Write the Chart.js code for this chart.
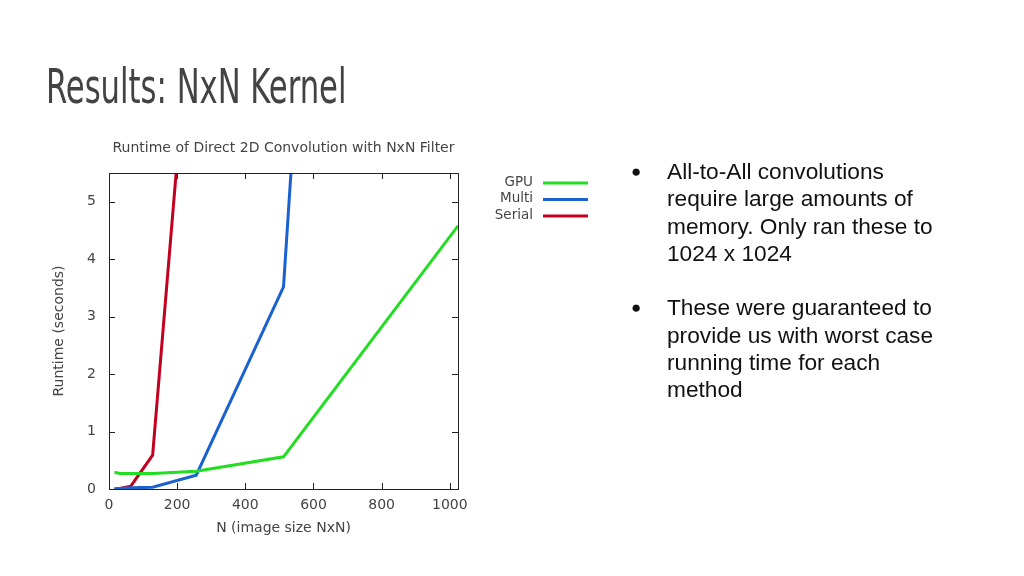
<!DOCTYPE html>
<html>
<head>
<meta charset="utf-8">
<script src="https://cdn.jsdelivr.net/npm/chart.js@4"></script>
<style>
  html, body { margin: 0; padding: 0; background: #fff; }
  #wrap { position: relative; width: 1024px; height: 576px; overflow: hidden; }
  #chart { position: absolute; left: 0; top: 0; }
  #title {
    position: absolute; left: 46px; top: 58px;
    font-family: "Liberation Sans Narrow", "DejaVu Sans Condensed", sans-serif;
    font-size: 48px; color: #434343; white-space: nowrap;
    transform: scaleX(0.71); transform-origin: left top;
  }
  .bullets {
    position: absolute; left: 667px; top: 158px; width: 285px;
    font-family: "Liberation Sans", Arial, sans-serif; font-size: 22.7px;
    line-height: 27.3px; color: #111;
  }
  .bullets p { margin: 0 0 27.3px 0; position: relative; }
  .bullets p::before {
    content: "\25CF"; position: absolute; left: -36px; top: 0; font-size: 17px;
  }
</style>
</head>
<body>
<div id="wrap">
  <canvas id="chart" width="1024" height="576"></canvas>
  <div id="title">Results: NxN Kernel</div>
  <div class="bullets">
    <p>All-to-All convolutions require large amounts of memory. Only ran these to 1024 x 1024</p>
    <p>These were guaranteed to provide us with worst case running time for each method</p>
  </div>
</div>
<script>
// image sizes N and runtimes in seconds
const nSizes = [16, 32, 64, 128, 256, 512, 1024];
const gpuTimes = [0.29, 0.27, 0.27, 0.27, 0.31, 0.56, 4.58];
const multiTimes = [0.00, 0.01, 0.02, 0.03, 0.24, 3.52, 50];
const serialTimes = [0.00, 0.01, 0.05, 0.59, 9.7, null, null];

const xTicks = [0, 200, 400, 600, 800, 1000];
const yTicks = [0, 1, 2, 3, 4, 5];

const seriesNames = ['GPU', 'Multi', 'Serial'];
const seriesColors = ['#22dd22', '#1a62cf', '#c20020'];
const seriesData = [gpuTimes, multiTimes, serialTimes];

const chartFont = '"DejaVu Sans", sans-serif';
const textColor = '#444';

// gnuplot-ish frame: inward ticks on all sides, title and key
const framePlugin = {
  id: 'frame',
  afterDraw(chart) {
    const { ctx, chartArea: a, scales } = chart;
    ctx.save();
    ctx.strokeStyle = '#222';
    ctx.lineWidth = 1;
    ctx.strokeRect(a.left + 0.5, a.top + 0.5, a.right - a.left, a.bottom - a.top);
    const t = 6;
    ctx.beginPath();
    xTicks.forEach(v => {
      const x = Math.round(scales.x.getPixelForValue(v)) + 0.5;
      ctx.moveTo(x, a.bottom); ctx.lineTo(x, a.bottom - t);
      ctx.moveTo(x, a.top); ctx.lineTo(x, a.top + t);
    });
    yTicks.forEach(v => {
      const y = Math.round(scales.y.getPixelForValue(v)) + 0.5;
      ctx.moveTo(a.left, y); ctx.lineTo(a.left + t, y);
      ctx.moveTo(a.right, y); ctx.lineTo(a.right - t, y);
    });
    ctx.stroke();

    ctx.fillStyle = textColor;
    ctx.font = '14px ' + chartFont;
    ctx.textAlign = 'center';
    ctx.textBaseline = 'middle';
    ctx.fillText('Runtime of Direct 2D Convolution with NxN Filter', (a.left + a.right) / 2, a.top - 25);

    // key
    ctx.font = '13.5px ' + chartFont;
    ctx.textAlign = 'right';
    chart.data.datasets.forEach((ds, i) => {
      const y = a.top + 9 + i * 16.5;
      ctx.fillStyle = textColor;
      ctx.fillText(ds.label, a.right + 75, y);
      ctx.strokeStyle = ds.borderColor;
      ctx.lineWidth = 3;
      ctx.beginPath();
      ctx.moveTo(a.right + 85, y + 1);
      ctx.lineTo(a.right + 130, y + 1);
      ctx.stroke();
    });
    ctx.restore();
  }
};

const axisFont = { family: chartFont, size: 14 };

new Chart(document.getElementById('chart'), {
  type: 'line',
  data: {
    labels: nSizes,
    datasets: seriesNames.map((name, i) => ({
      label: name,
      data: nSizes.map((n, j) => ({ x: n, y: seriesData[i][j] })),
      borderColor: seriesColors[i],
      backgroundColor: seriesColors[i],
      borderWidth: 3,
      pointRadius: 0,
      tension: 0,
      spanGaps: false
    }))
  },
  options: {
    responsive: false,
    animation: false,
    layout: { padding: { left: 50, right: 566, top: 173, bottom: 37 } },
    plugins: { legend: { display: false }, tooltip: { enabled: false } },
    scales: {
      x: {
        type: 'linear', min: 0, max: 1024,
        afterBuildTicks: s => { s.ticks = xTicks.map(v => ({ value: v })); },
        afterFit: s => { s.height = 50; },
        grid: { display: false, drawTicks: false },
        border: { display: false },
        ticks: { color: textColor, padding: 8, font: axisFont, callback: v => String(v) },
        title: { display: true, text: 'N (image size NxN)', color: textColor, padding: { top: 0, bottom: 2 },
                 font: axisFont }
      },
      y: {
        type: 'linear', min: 0, max: 5.5,
        afterBuildTicks: s => { s.ticks = yTicks.map(v => ({ value: v })); },
        afterFit: s => { s.width = 59; },
        grid: { display: false, drawTicks: false },
        border: { display: false },
        ticks: { color: textColor, padding: 13, font: axisFont, callback: v => String(v) },
        title: { display: true, text: 'Runtime (seconds)', color: textColor, padding: { top: 1, bottom: 0 },
                 font: axisFont }
      }
    }
  },
  plugins: [framePlugin]
});
</script>
</body>
</html>
